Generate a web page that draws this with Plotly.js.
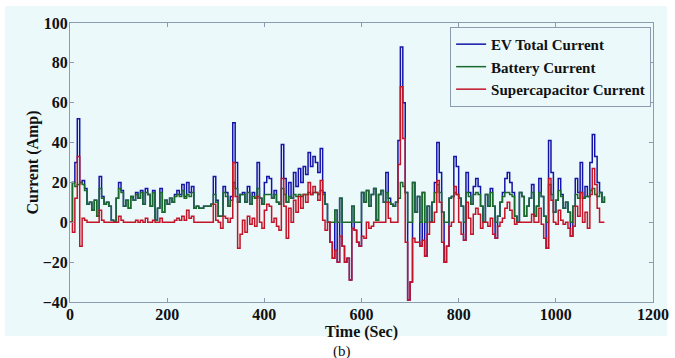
<!DOCTYPE html>
<html>
<head>
<meta charset="utf-8">
<script src="https://cdn.plot.ly/plotly-3.0.1.min.js"></script>
<style>html,body{margin:0;padding:0;background:#fff;}#chart{width:675px;height:358px;}</style>
</head>
<body>
<div id="chart"></div>
<script>
// Time axis (s), sampled every 5 s
const timeSec = [
0,5,10,15,20,25,30,35,40,45,50,55,60,65,70,75,80,85,90,95,
100,105,110,115,120,125,130,135,140,145,150,155,160,165,170,175,180,185,190,195,
200,205,210,215,220,225,230,235,240,245,250,255,260,265,270,275,280,285,290,295,
300,305,310,315,320,325,330,335,340,345,350,355,360,365,370,375,380,385,390,395,
400,405,410,415,420,425,430,435,440,445,450,455,460,465,470,475,480,485,490,495,
500,505,510,515,520,525,530,535,540,545,550,555,560,565,570,575,580,585,590,595,
600,605,610,615,620,625,630,635,640,645,650,655,660,665,670,675,680,685,690,695,
700,705,710,715,720,725,730,735,740,745,750,755,760,765,770,775,780,785,790,795,
800,805,810,815,820,825,830,835,840,845,850,855,860,865,870,875,880,885,890,895,
900,905,910,915,920,925,930,935,940,945,950,955,960,965,970,975,980,985,990,995,
1000,1005,1010,1015,1020,1025,1030,1035,1040,1045,1050,1055,1060,1065,1070,1075,1080,1085,1090,1095,1100];

const evTotal = [
0,20,30,52,20,21,17,9,10,6,11,3,23,13,9,10,8,1,0,12,
20,16,8,11,7,13,11,15,12,16,9,17,14,8,16,1,7,17,5,11,
9,12,10,14,16,14,19,13,20,15,18,7,8,7,7,8,8,8,9,23,
11,3,3,18,15,8,13,50,30,10,14,15,10,18,9,15,12,30,12,9,
20,23,22,12,16,10,9,39,22,10,20,12,25,18,27,20,28,24,35,28,
33,30,25,37,15,9,0,-10,-18,6,-20,12,-12,-20,-18,-29,8,-4,-10,-12,
15,10,16,8,14,17,1,14,16,10,25,12,9,8,10,41,88,60,15,-39,
-30,20,5,13,-12,15,-17,8,0,10,20,40,25,5,-20,-12,12,13,33,28,
12,8,-9,25,15,9,18,22,18,8,0,14,8,17,8,-8,3,10,15,22,
25,20,15,3,0,15,13,3,8,12,19,3,8,22,13,3,-13,41,25,5,
11,22,14,7,10,5,-7,8,22,15,30,12,18,13,30,44,33,20,15,10,13];

const batteryCurrent = [
0,20,18,19,20,19,16,9,10,6,11,3,17,12,9,10,8,1,0,12,
17,15,8,11,7,13,11,14,12,15,9,15,14,8,15,1,7,15,5,11,
9,12,10,13,14,13,16,12,14,13,15,7,8,7,7,8,8,8,9,14,
10,3,3,15,13,8,11,20,17,10,14,14,10,15,9,13,12,17,12,9,
14,14,14,12,14,10,9,17,14,10,13,12,14,13,14,13,14,14,15,14,
15,15,14,16,14,9,0,0,0,6,0,12,0,0,0,0,8,0,0,0,
15,10,16,8,14,17,1,14,16,10,15,10,9,8,10,12,20,18,15,0,
0,20,5,13,0,15,0,8,0,10,15,19,15,5,0,0,12,13,15,14,
12,8,0,15,13,9,14,15,14,8,0,14,8,15,8,0,3,10,13,15,
15,14,13,3,0,15,13,3,8,12,15,3,8,15,13,3,0,19,14,5,
11,16,13,7,10,5,0,8,14,12,15,12,13,13,16,17,14,13,15,10,13];

const supercapCurrent = [
0,-5,12,33,-12,2,1,0,0,0,0,0,6,1,0,0,0,0,0,0,
3,1,0,0,0,0,0,1,0,1,0,2,0,0,1,0,0,2,0,0,
0,0,0,1,2,1,3,1,6,2,3,0,0,0,0,0,0,0,0,9,
1,0,-3,3,2,0,2,30,13,-13,-6,1,-5,3,-1,2,-2,13,0,-3,
6,9,8,0,2,-2,-4,22,8,-8,7,0,11,5,13,7,14,10,20,14,
18,15,11,21,1,-4,0,-10,-18,-14,-20,-7,-12,-20,-18,-29,-3,-4,-10,-12,
-7,-8,0,-3,-2,0,0,0,0,0,10,2,0,0,0,29,68,42,-10,-39,
-30,-8,-10,-10,-12,-9,-17,-6,0,0,5,21,10,-10,-20,-12,-2,0,18,14,
0,-6,-9,10,2,-6,4,7,4,-3,0,0,-2,2,-6,-8,-2,0,2,7,
10,6,2,-1,0,0,0,0,0,0,4,0,0,7,-1,-8,-13,22,11,0,
-1,6,1,-1,0,-3,-7,-2,8,3,15,0,5,-3,14,27,19,7,0,0,0];

const seriesNames = ['EV Total Current', 'Battery Current', 'Supercapacitor Current'];
const xTickVals = [0, 200, 400, 600, 800, 1000, 1200];
const yTickVals = [-40, -20, 0, 20, 40, 60, 80, 100];

const bg = '#ebf9fb';
const serif = 'Liberation Serif, Times New Roman, serif';

const traces = [
  {x: timeSec, y: evTotal, name: seriesNames[0], type: 'scatter', mode: 'lines',
   line: {color: '#1414a8', width: 1.5, shape: 'hv'}},
  {x: timeSec, y: batteryCurrent, name: seriesNames[1], type: 'scatter', mode: 'lines',
   line: {color: '#1a6a2c', width: 1.5, shape: 'hv'}},
  {x: timeSec, y: supercapCurrent, name: seriesNames[2], type: 'scatter', mode: 'lines',
   line: {color: '#c41428', width: 1.5, shape: 'hv'}}
];

const axisCommon = {
  showline: true, linecolor: '#8c9cb0', linewidth: 1, mirror: 'allticks',
  ticks: 'inside', ticklen: 4, tickcolor: '#8c9cb0', showgrid: false, zeroline: false,
  ticklabelstandoff: -2,
  tickfont: {family: serif, size: 16, color: '#111', weight: 700}
};

const layout = {
  width: 675, height: 358,
  margin: {l: 70, r: 22, t: 23, b: 56},
  paper_bgcolor: '#ffffff', plot_bgcolor: bg,
  showlegend: true,
  legend: {x: 0.652, y: 0.986, xanchor: 'left', yanchor: 'top',
    bgcolor: bg, bordercolor: '#8c9cb0', borderwidth: 1,
    font: {family: serif, size: 15, color: '#111', weight: 700},
    itemwidth: 30, tracegroupgap: 0},
  xaxis: Object.assign({}, axisCommon, {range: [0, 1200], tickvals: xTickVals,
    title: {text: 'Time (Sec)', standoff: 0, font: {family: serif, size: 16, color: '#111', weight: 700}}}),
  yaxis: Object.assign({}, axisCommon, {range: [-40, 100], tickvals: yTickVals,
    title: {text: 'Current (Amp)', standoff: 0, font: {family: serif, size: 16, color: '#111', weight: 700}}}),
  shapes: [
    {type: 'rect', xref: 'paper', yref: 'paper', x0: -0.1115, x1: 1.024, y0: -0.122, y1: 1.061,
     fillcolor: bg, line: {width: 0}, layer: 'below'}
  ],
  annotations: [
    {text: '(b)', xref: 'paper', yref: 'paper', x: (342 - 70) / 583, y: (302 - 351) / 279,
     xanchor: 'center', yanchor: 'middle', showarrow: false,
     font: {family: serif, size: 15, color: '#111'}}
  ]
};

Plotly.newPlot('chart', traces, layout, {displayModeBar: false, staticPlot: true});
</script>
</body>
</html>
